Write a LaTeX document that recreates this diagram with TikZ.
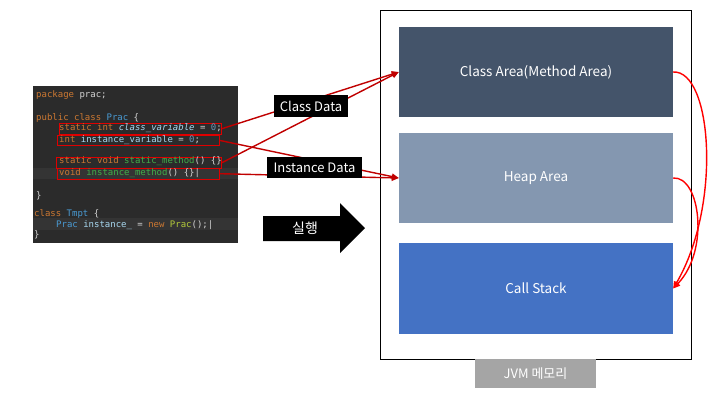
\documentclass[tikz,border=0pt]{standalone}
\usepackage{fontspec}
\setmainfont{Noto Sans CJK KR}
\setmonofont{DejaVu Sans Mono}
\usetikzlibrary{arrows.meta}
\definecolor{codebg}{HTML}{2B2B2B}
\definecolor{rowhl}{HTML}{343434}
\definecolor{kw}{HTML}{CC7832}
\definecolor{plain}{HTML}{D4D4D4}
\definecolor{cls}{HTML}{4A9BD4}
\definecolor{field}{HTML}{A8D8F0}
\definecolor{num}{HTML}{6897BB}
\definecolor{meth}{HTML}{3FAE49}
\definecolor{ctor}{HTML}{B5CC3A}
\definecolor{boxred}{HTML}{E00000}
\definecolor{darkred}{HTML}{C00000}
\definecolor{caC}{HTML}{44546A}
\definecolor{heapC}{HTML}{8497B0}
\definecolor{csC}{HTML}{4472C4}
\definecolor{jvmgray}{HTML}{A5A5A5}
\begin{document}
\begin{tikzpicture}[x=1pt,y=-1pt,
  area/.style={minimum width=274pt, inner sep=0pt, text=white, font=\fontsize{13.5}{15}\selectfont},
  codeline/.style={anchor=base west, inner sep=0pt, text=plain, font=\ttfamily\fontsize{9}{10}\selectfont},
  redbox/.style={draw=boxred, line width=0.9pt, inner sep=0pt, anchor=north west},
  tag/.style={fill=black, text=white, inner sep=0pt, font=\fontsize{13}{15}\selectfont},
  dataarrow/.style={draw=darkred, line width=1.4pt, -{Triangle[length=7pt,width=6pt]}},
  flowarrow/.style={draw=red, line width=1.4pt, -{Triangle[length=7pt,width=6pt]}}
]
\useasboundingbox (0,0) rectangle (720,405);
\fill[white] (0,0) rectangle (720,405);

% JVM memory frame
\node[draw=black, line width=1pt, minimum width=311pt, minimum height=349pt, inner sep=0pt, anchor=north west] (jvm) at (380,10) {};
\node[fill=jvmgray, text=white, minimum width=121pt, minimum height=29pt, inner sep=0pt, font=\fontsize{13}{15}\selectfont] (jvmlabel) at (535.5,373.5) {JVM 메모리};

\node[area, fill=caC, minimum height=90pt] (ca) at (536,72) {Class Area(Method Area)};
\node[area, fill=heapC, minimum height=90pt] (heap) at (536,178) {Heap Area};
\node[area, fill=csC, minimum height=91pt] (cs) at (536,288.5) {Call Stack};

% code panel
\node[fill=codebg, minimum width=205pt, minimum height=157pt, inner sep=0pt, anchor=north west] (code) at (33,86) {};
\node[fill=rowhl, minimum width=205pt, minimum height=11pt, inner sep=0pt, anchor=north west] (hl1) at (33,168) {};
\node[fill=rowhl, minimum width=205pt, minimum height=12pt, inner sep=0pt, anchor=north west] (hl2) at (33,218) {};

% red highlight boxes
\node[redbox, minimum width=162pt, minimum height=10.5pt] (b1) at (59,123) {};
\node[redbox, minimum width=162pt, minimum height=10pt] (b2) at (57,135) {};
\node[redbox, minimum width=165pt, minimum height=10.5pt] (b3) at (56,157) {};
\node[redbox, minimum width=162pt, minimum height=10.5pt] (b4) at (57,168) {};

\node[codeline] (l1) at (36,97) {{\color{kw}package} prac;};
\node[codeline] (l3) at (36,120) {{\color{kw}public class} {\color{cls}Prac} \{};
\node[codeline] (l4) at (59,130.5) {{\color{kw}static int} {\color{field}\itshape class\_variable} = {\color{num}0};};
\node[codeline] (l5) at (59,142) {{\color{kw}int} {\color{field}instance\_variable} = {\color{num}0};};
\node[codeline] (l7) at (59,163.5) {{\color{kw}static void} {\color{meth}static\_method}() \{\}};
\node[codeline] (l8) at (59,175) {{\color{kw}void} {\color{meth}instance\_method}() \{\}|};
\node[codeline] (l10) at (36,198) {\}};
\node[codeline] (l11) at (34,216) {{\color{kw}class} {\color{cls}Tmpt} \{};
\node[codeline] (l12) at (56,227) {{\color{cls}Prac} {\color{field}instance\_} = {\color{kw}new} {\color{ctor}Prac}();|};
\node[codeline] (l13) at (34,237) {\}};

% data arrows
\draw[dataarrow] (b1.east) -- (ca.west);
\draw[dataarrow] (b3.east) -- (ca.west);
\draw[dataarrow] (b2.east) -- (heap.west);
\draw[dataarrow] (b4.east) -- (heap.west);

\node[tag, minimum width=74pt, minimum height=22pt] (cd) at (311,106) {Class Data};
\node[tag, minimum width=95pt, minimum height=21pt] (idata) at (314.5,167.5) {Instance Data};

% execution arrow
\fill[black] (263,216) -- (340,216) -- (340,203) -- (365,228) -- (340,253) -- (340,241) -- (263,241) -- cycle;
\node[text=white, inner sep=0pt, font=\fontsize{14}{16}\selectfont] (run) at (305,228) {실행};

% flow arrows
\draw[flowarrow] (ca.east) .. controls (712,70) and (722,205) .. (cs.east);
\draw[flowarrow] (heap.east) .. controls (700,176) and (710,250) .. (cs.east);
\end{tikzpicture}
\end{document}
